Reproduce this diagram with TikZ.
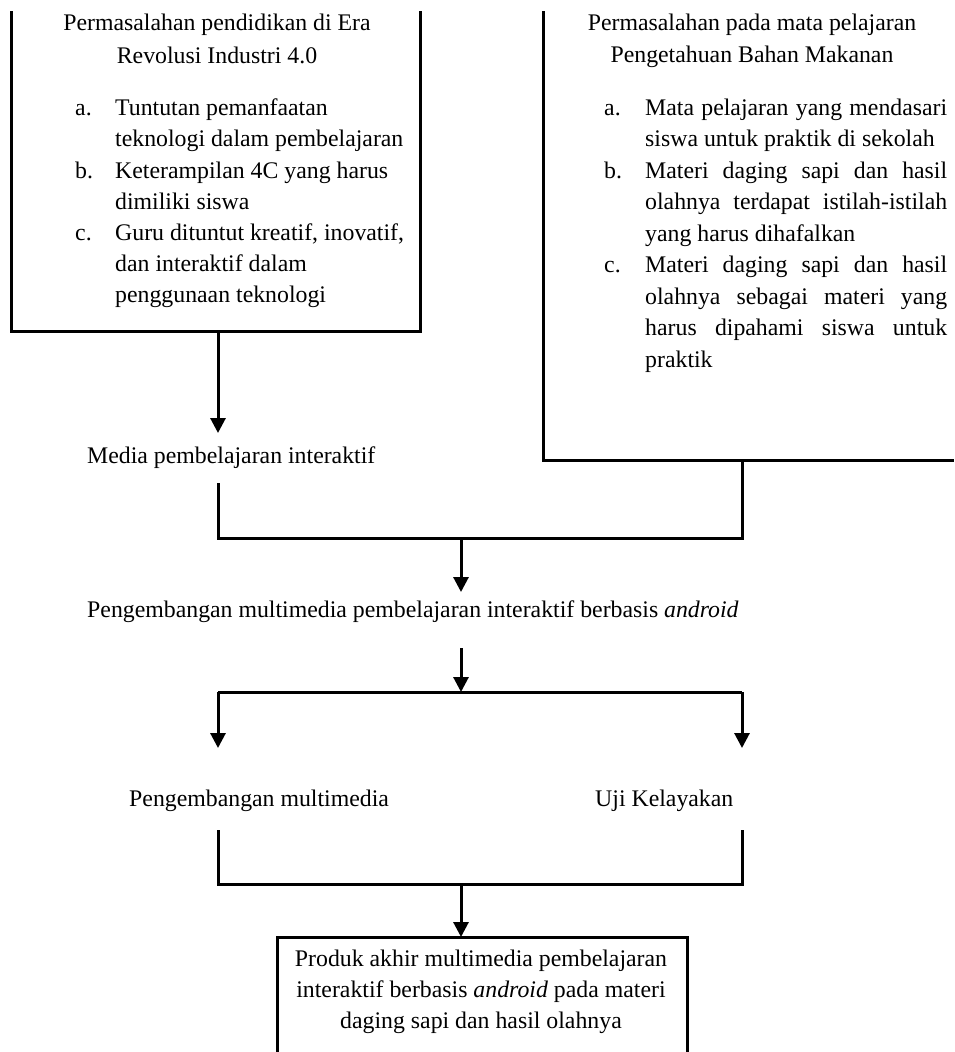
\documentclass[tikz,border=0pt]{standalone}
\usepackage{fontspec}
\setmainfont{Liberation Serif}
\usetikzlibrary{arrows.meta}
\newcommand\jline[1]{\makebox[302pt][s]{#1}}
\begin{document}
\begin{tikzpicture}[x=1pt,y=-1pt,
  txt/.style={inner sep=0pt, font=\fontsize{23.8}{31.5}\selectfont, anchor=base west},
  ctxt/.style={txt, anchor=base},
  ln/.style={line width=3pt, line join=miter},
  arr/.style={ln, -{Triangle[width=15pt,length=15pt]}},
  ]
\useasboundingbox (0,0) rectangle (954,1052);
% box outlines (cropped boxes)
\draw[ln] (11,11) -- (11,331) -- (420,331) -- (420,11);
\draw[ln] (543,11) -- (543,460) -- (954,460);
\draw[ln] (277,1052) -- (277,937) -- (687,937) -- (687,1052);

% left box text
\node[ctxt] (lt1) at (217,30) {Permasalahan pendidikan di Era};
\node[ctxt] (lt2) at (217,63) {Revolusi Industri 4.0};
\node[txt] (la) at (75,115) {a.};
\node[txt] (la1) at (115,115) {Tuntutan pemanfaatan};
\node[txt] (la2) at (115,146.5) {teknologi dalam pembelajaran};
\node[txt] (lb) at (75,178) {b.};
\node[txt] (lb1) at (115,178) {Keterampilan 4C yang harus};
\node[txt] (lb2) at (115,209) {dimiliki siswa};
\node[txt] (lc) at (75,240) {c.};
\node[txt] (lc1) at (115,240) {Guru dituntut kreatif, inovatif,};
\node[txt] (lc2) at (115,271) {dan interaktif dalam};
\node[txt] (lc3) at (115,302) {penggunaan teknologi};

% right box text
\node[ctxt] (rt1) at (752,30) {Permasalahan pada mata pelajaran};
\node[ctxt] (rt2) at (752,62) {Pengetahuan Bahan Makanan};
\node[txt] (ra) at (604,115) {a.};
\node[txt] (ra1) at (645,115) {\jline{Mata pelajaran yang mendasari}};
\node[txt] (ra2) at (645,146.5) {siswa untuk praktik di sekolah};
\node[txt] (rb) at (604,178) {b.};
\node[txt] (rb1) at (645,178) {\jline{Materi daging sapi dan hasil}};
\node[txt] (rb2) at (645,209.5) {\jline{olahnya terdapat istilah-istilah}};
\node[txt] (rb3) at (645,241) {yang harus dihafalkan};
\node[txt] (rc) at (604,272.5) {c.};
\node[txt] (rc1) at (645,272.5) {\jline{Materi daging sapi dan hasil}};
\node[txt] (rc2) at (645,304) {\jline{olahnya sebagai materi yang}};
\node[txt] (rc3) at (645,335.5) {\jline{harus dipahami siswa untuk}};
\node[txt] (rc4) at (645,367) {praktik};

% middle texts
\node[txt] (media) at (87,463) {Media pembelajaran interaktif};
\node[txt] (dev) at (87,617) {Pengembangan multimedia pembelajaran interaktif berbasis \textit{android}};
\node[txt] (mm) at (129,806) {Pengembangan multimedia};
\node[txt] (uji) at (595,806) {Uji Kelayakan};

% bottom box text
\node[ctxt] (p1) at (481,966) {Produk akhir multimedia pembelajaran};
\node[ctxt] (p2) at (481,997) {interaktif berbasis \textit{android} pada materi};
\node[ctxt] (p3) at (481,1028) {daging sapi dan hasil olahnya};

% connector coordinates
\coordinate (lbB) at (218,331);
\coordinate (mediaT) at (218,433);
\coordinate (mediaB) at (218,483);
\coordinate (rbB) at (742,460);
\coordinate (j1L) at (218,538);
\coordinate (j1R) at (742,538);
\coordinate (j1C) at (461,538);
\coordinate (devT) at (461,592);
\coordinate (devB) at (461,648);
\coordinate (j2C) at (461,692);
\coordinate (j2L) at (218,692);
\coordinate (j2R) at (742,692);
\coordinate (mmT) at (218,748);
\coordinate (ujiT) at (742,748);
\coordinate (mmB) at (218,830);
\coordinate (ujiB) at (742,830);
\coordinate (j3L) at (218,884);
\coordinate (j3R) at (742,884);
\coordinate (j3C) at (461,884);
\coordinate (prodT) at (461,937);

\draw[arr] (lbB) -- (mediaT);
\draw[ln] (mediaB) -- (j1L) -- (j1R) -- (rbB);
\draw[arr] (j1C) -- (devT);
\draw[arr] (devB) -- (j2C);
\draw[ln] (j2L) -- (j2R);
\draw[arr] (j2L) -- (mmT);
\draw[arr] (j2R) -- (ujiT);
\draw[ln] (mmB) -- (j3L) -- (j3R) -- (ujiB);
\draw[arr] (j3C) -- (prodT);
\end{tikzpicture}
\end{document}
